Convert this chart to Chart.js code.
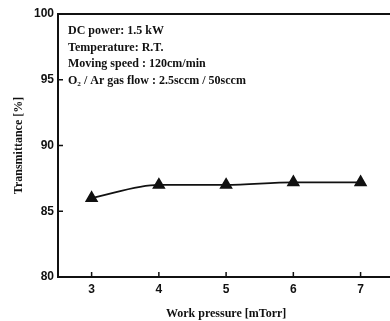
<!DOCTYPE html>
<html>
<head>
<meta charset="utf-8">
<script src="https://cdn.jsdelivr.net/npm/chart.js@4.4.1/dist/chart.umd.min.js"></script>
<style>
html,body{margin:0;padding:0;background:#fff;overflow:hidden;}
#wrap{width:402px;height:321px;}
</style>
</head>
<body>
<div id="wrap"><canvas id="c" width="402" height="321"></canvas></div>
<script>
const pressures = [3, 4, 5, 6, 7];
const transmittance = [86.0, 87.0, 87.0, 87.2, 87.2];
const yTicks = [80, 85, 90, 95, 100];
const notes = [
  "DC power: 1.5 kW",
  "Temperature: R.T.",
  "Moving speed : 120cm/min",
  "O\u2082 / Ar gas flow : 2.5sccm / 50sccm"
];
const xTitle = "Work pressure [mTorr]";
const yTitle = "Transmittance [%]";

const frameAndTicks = {
  id: 'frameAndTicks',
  afterDraw(chart) {
    const {ctx, chartArea: a, scales: {x, y}} = chart;
    ctx.save();
    ctx.strokeStyle = '#111';
    ctx.lineWidth = 2;
    ctx.strokeRect(a.left, a.top, a.right - a.left, a.bottom - a.top);
    ctx.lineWidth = 1.5;
    ctx.beginPath();
    pressures.forEach(v => {
      const px = x.getPixelForValue(v);
      ctx.moveTo(px, a.bottom); ctx.lineTo(px, a.bottom - 5);
    });
    yTicks.forEach(v => {
      const py = y.getPixelForValue(v);
      ctx.moveTo(a.left, py); ctx.lineTo(a.left + 5, py);
    });
    ctx.stroke();
    ctx.fillStyle = '#111';
    ctx.font = 'bold 12px "Liberation Serif", "DejaVu Serif", serif';
    ctx.textBaseline = 'middle';
    notes.forEach((t, i) => {
      ctx.fillText(t, a.left + 10, a.top + 17 + i * 16.7);
    });
    ctx.restore();
  }
};

new Chart(document.getElementById('c'), {
  type: 'line',
  data: {
    datasets: [{
      data: pressures.map((p, i) => ({x: p, y: transmittance[i]})),
      borderColor: '#111',
      backgroundColor: '#111',
      borderWidth: 1.8,
      tension: 0.4,
      cubicInterpolationMode: 'monotone',
      pointStyle: 'triangle',
      pointRadius: 6,
      pointHoverRadius: 6,
      fill: false
    }]
  },
  options: {
    responsive: false,
    animation: false,
    events: [],
    layout: {padding: {top: 14, right: 4, left: 0, bottom: 0}},
    plugins: {legend: {display: false}, tooltip: {enabled: false}},
    scales: {
      x: {
        type: 'linear', min: 2.5, max: 7.5,
        afterBuildTicks: s => { s.ticks = pressures.map(v => ({value: v})); },
        afterFit: s => { s.height = 44; },
        grid: {display: false, drawTicks: false},
        border: {display: false},
        ticks: {color: '#111', padding: 5, font: {family: '"Liberation Sans", Arial, sans-serif', weight: 'bold', size: 12}},
        title: {display: true, text: xTitle, color: '#111', padding: {top: 6, bottom: 0},
          font: {family: '"Liberation Serif", serif', weight: 'bold', size: 12}}
      },
      y: {
        min: 80, max: 100,
        afterBuildTicks: s => { s.ticks = yTicks.map(v => ({value: v})); },
        afterFit: s => { s.width = 58; },
        grid: {display: false, drawTicks: false},
        border: {display: false},
        ticks: {color: '#111', padding: 4, font: {family: '"Liberation Sans", Arial, sans-serif', weight: 'bold', size: 12}},
        title: {display: true, text: yTitle, color: '#111', padding: {top: 12, bottom: 0},
          font: {family: '"Liberation Serif", serif', weight: 'bold', size: 12}}
      }
    }
  },
  plugins: [frameAndTicks]
});
</script>
</body>
</html>
